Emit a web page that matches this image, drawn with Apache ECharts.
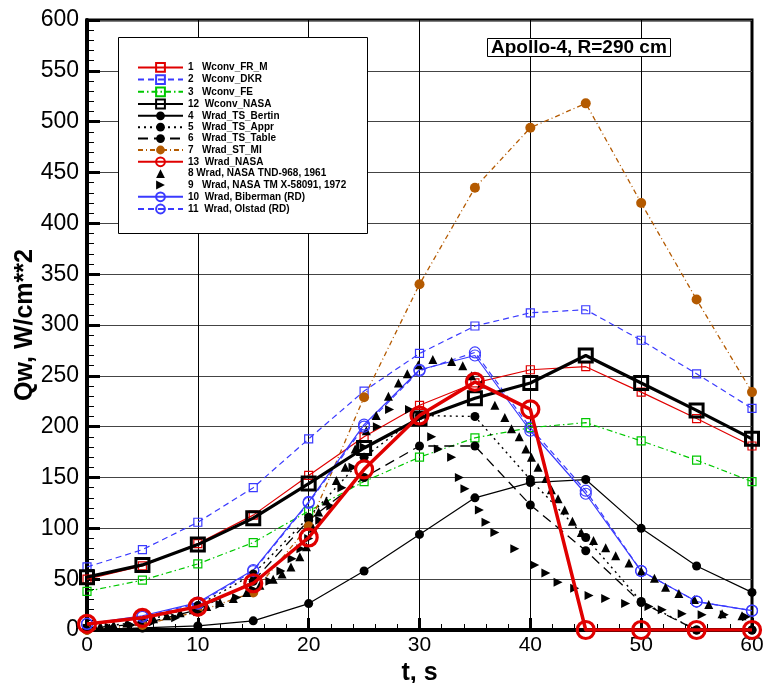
<!DOCTYPE html>
<html>
<head>
<meta charset="utf-8">
<script src="https://cdn.jsdelivr.net/npm/echarts@6/dist/echarts.min.js"></script>
<style>
html,body{margin:0;padding:0;background:#fff;}
#chart{width:768px;height:683px;}
</style>
</head>
<body>
<div id="chart"></div>
<script>
// ---- data ----
const tGrid = [0, 5, 10, 15, 20, 25, 30, 35, 40, 45, 50, 55, 60];
const xTicks = [0, 10, 20, 30, 40, 50, 60];
const yTicks = [0, 50, 100, 150, 200, 250, 300, 350, 400, 450, 500, 550, 600];

const wconvFRM   = [50, 63, 85, 113, 152, 190, 221, 243, 256, 259, 234, 208, 181];
const wconvDKR   = [62, 79, 106, 140, 188, 235, 272, 299, 312, 315, 285, 252, 218];
const wconvFE    = [38, 49, 65, 86, 117, 146, 170, 189, 199, 204, 186, 167, 146];
const wconvNASA  = [52, 64, 84, 110, 144, 179, 208, 228, 243, 270, 243, 216, 188];
const wradBertin = [0, 2, 4, 9, 26, 58, 94, 130, 145, 148, 100, 63, 37];
const wradAppr   = [2, 8, 24, 55, 111, 170, 211, 210, 148, 91, 28, 0, 0];
const wradTable  = [2, 6, 20, 48, 108, 150, 181, 181, 123, 78, 27, 0, 0];
const wradSTMI   = [0, 5, 18, 37, 102, 229, 340, 435, 494, 518, 420, 325, 234];
const wradNASA   = [6, 12, 23, 46, 91, 158, 211, 244, 217, 0, 0, 0, 0];
const wradBiber  = [6, 14, 27, 59, 126, 202, 256, 270, 196, 134, 58, 28, 19];
const wradOlstad = [6, 13, 26, 58, 125, 200, 255, 273, 199, 137, 58, 28, 19];

// Wrad, NASA TND-968, 1961  (t, value)
const tnd968T = [0,1.2,2.4,3.6,4.8,6,7.2,8.4,9.6,10.8,12,13.2,14.4,15.6,16.8,17.6,18.4,19.2,19.8,20.4,20.9,21.6,22.5,23.3,24.2,25.2,26.1,27.2,28.1,28.9,29.9,31.2,32.9,33.9,34.7,35.6,36.8,37.7,38.3,39.0,39.6,40.1,40.7,41.4,41.9,42.5,43.1,43.8,44.6,45.7,46.8,47.7,48.9,50.0,51.2,52.2,53.4,54.8,56.1,57.3,59.1];
const tnd968V = [3,4,5,7,9,11,14,17,20,23,27,31,37,44,50,55,62,72,82,100,116,127,147,160,178,196,211,230,243,252,261,266,264,260,250,242,221,209,198,190,178,170,160,149,138,129,118,107,96,88,81,73,66,58,51,42,36,30,25,16,14];

// Wrad, NASA TM X-58091, 1972  (t, value)
const tmxT = [0,2,4,6,8,10,12,13.5,15,16.5,17.5,18.5,19.3,20,21,22,23,24,25,26.2,27.3,29.1,31.1,31.7,32.9,33.6,34.1,35.4,36,36.8,38.6,40.4,41.4,42.5,44,45.3,46.8,48.6,50.7,51.9,53.7,55.5,57.5,59.5];
const tmxV = [2,3,5,8,12,18,25,32,40,48,58,70,80,90,108,122,140,160,180,200,217,217,190,178,170,150,139,118,106,96,80,64,56,47,41,34,31,26,23,20,16,15,15,13];

const seriesNames = [
  '1   Wconv_FR_M', '2   Wconv_DKR', '3   Wconv_FE', '12  Wconv_NASA',
  '4   Wrad_TS_Bertin', '5   Wrad_TS_Appr', '6   Wrad_TS_Table', '7   Wrad_ST_MI',
  '13  Wrad_NASA', '8 Wrad, NASA TND-968, 1961', '9   Wrad, NASA TM X-58091, 1972',
  '10  Wrad, Biberman (RD)', '11  Wrad, Olstad (RD)'
];

function pairs(xs, ys) { return xs.map((x, i) => [x, ys[i]]); }

const RED = '#e00000', BLUE = '#3a3aff', GREEN = '#00c800', BROWN = '#b45a00';
const FONT = '"Liberation Sans", Arial, sans-serif';
const NONE = 'rgba(0,0,0,0)';

function lineSeries(name, data, color, width, type, symbol, size, hollowW, z, rot) {
  const hollow = hollowW > 0;
  return {
    name: name, type: 'line', data: data, z: z || 2,
    symbol: symbol, symbolSize: size, showAllSymbol: true, symbolRotate: rot || 0,
    lineStyle: { color: color, width: width, type: type, opacity: width > 0 ? 1 : 0 },
    itemStyle: hollow ? { color: NONE, borderColor: color, borderWidth: hollowW }
                      : { color: color, borderWidth: 0 },
    emphasis: { disabled: true }, animation: false
  };
}

const series = [
  lineSeries(seriesNames[0], pairs(tGrid, wconvFRM), RED, 1.2, 'solid', 'rect', 8, 1.2),
  lineSeries(seriesNames[1], pairs(tGrid, wconvDKR), BLUE, 1.2, [6, 4], 'rect', 8, 1.2),
  lineSeries(seriesNames[2], pairs(tGrid, wconvFE), GREEN, 1.2, [6, 3, 1.5, 3], 'rect', 8, 1.2),
  lineSeries(seriesNames[3], pairs(tGrid, wconvNASA), '#000', 3.2, 'solid', 'rect', 13, 3, 3),
  lineSeries(seriesNames[4], pairs(tGrid, wradBertin), '#000', 1.2, 'solid', 'circle', 9, 0),
  lineSeries(seriesNames[5], pairs(tGrid, wradAppr), '#000', 1.4, [2, 4], 'circle', 9, 0),
  lineSeries(seriesNames[6], pairs(tGrid, wradTable), '#000', 1.3, [10, 6], 'circle', 9, 0),
  lineSeries(seriesNames[7], pairs(tGrid, wradSTMI), BROWN, 1.3, [5, 3, 1, 3], 'circle', 10, 0),
  lineSeries(seriesNames[8], pairs(tGrid, wradNASA), RED, 3.5, 'solid', 'circle', 17, 3.2, 4),
  lineSeries(seriesNames[9], pairs(tnd968T, tnd968V), '#000', 0, 'solid', 'triangle', 9, 0),
  lineSeries(seriesNames[10], pairs(tmxT, tmxV), '#000', 0, 'solid', 'triangle', 9, 0, 2, -90),
  lineSeries(seriesNames[11], pairs(tGrid, wradBiber), BLUE, 1.2, 'solid', 'circle', 11, 1.2),
  lineSeries(seriesNames[12], pairs(tGrid, wradOlstad), BLUE, 1.2, [6, 4], 'circle', 11, 1.2)
];

const chart = echarts.init(document.getElementById('chart'), null, { renderer: 'canvas' });
chart.setOption({
  backgroundColor: '#fff',
  animation: false,
  textStyle: { fontFamily: FONT },
  title: {
    text: 'Apollo-4, R=290 cm',
    left: 487, top: 38,
    padding: [0, 4],
    borderWidth: 1, borderColor: '#000', backgroundColor: '#fff',
    textStyle: { fontFamily: FONT, fontSize: 19, fontWeight: 'bold', color: '#000', lineHeight: 19 },
    z: 20
  },
  graphic: [{
    type: 'rect', left: 118, top: 37, z: 15,
    shape: { width: 249, height: 196 },
    style: { fill: '#fff', stroke: '#000', lineWidth: 1 }
  }],
  legend: {
    orient: 'vertical', left: 137, top: 62, padding: 0,
    itemWidth: 45, itemHeight: 11, itemGap: 1.4,
    selectedMode: false, z: 20,
    data: seriesNames,
    textStyle: { fontFamily: FONT, fontSize: 10, fontWeight: 'bold', color: '#000' }
  },
  grid: {
    left: 87, right: 16, top: 20, bottom: 53,
    containLabel: false, outerBoundsMode: 'none',
    show: true, borderColor: '#000', borderWidth: 3, backgroundColor: 'transparent'
  },
  xAxis: {
    type: 'value', min: xTicks[0], max: xTicks[xTicks.length - 1], interval: 10,
    name: 't, s', nameLocation: 'middle', nameGap: 26,
    nameTextStyle: { fontFamily: FONT, fontSize: 25, fontWeight: 'bold', color: '#000' },
    axisLine: { show: true, lineStyle: { color: '#000', width: 4 } },
    axisTick: { show: true, inside: true, length: 12, lineStyle: { color: '#000', width: 3 } },
    minorTick: { show: true, splitNumber: 5, length: 6, lineStyle: { color: '#000', width: 1 } },
    splitLine: { show: true, lineStyle: { color: '#000', width: 1 } },
    axisLabel: { fontFamily: FONT, fontSize: 21, color: '#000', margin: 5 }
  },
  yAxis: {
    type: 'value', min: yTicks[0], max: yTicks[yTicks.length - 1], interval: 50,
    name: 'Qw, W/cm**2', nameLocation: 'middle', nameGap: 49, nameMoveOverlap: false,
    nameTextStyle: { fontFamily: FONT, fontSize: 25, fontWeight: 'bold', color: '#000' },
    axisLine: { show: true, lineStyle: { color: '#000', width: 4 } },
    axisTick: { show: true, inside: true, length: 13, lineStyle: { color: '#000', width: 3 } },
    minorTick: { show: true, splitNumber: 5, length: 7, lineStyle: { color: '#000', width: 1 } },
    splitLine: { show: true, lineStyle: { color: '#444', width: 1 } },
    axisLabel: { fontFamily: FONT, fontSize: 23, color: '#000', margin: 8 }
  },
  series: series
});
</script>
</body>
</html>
